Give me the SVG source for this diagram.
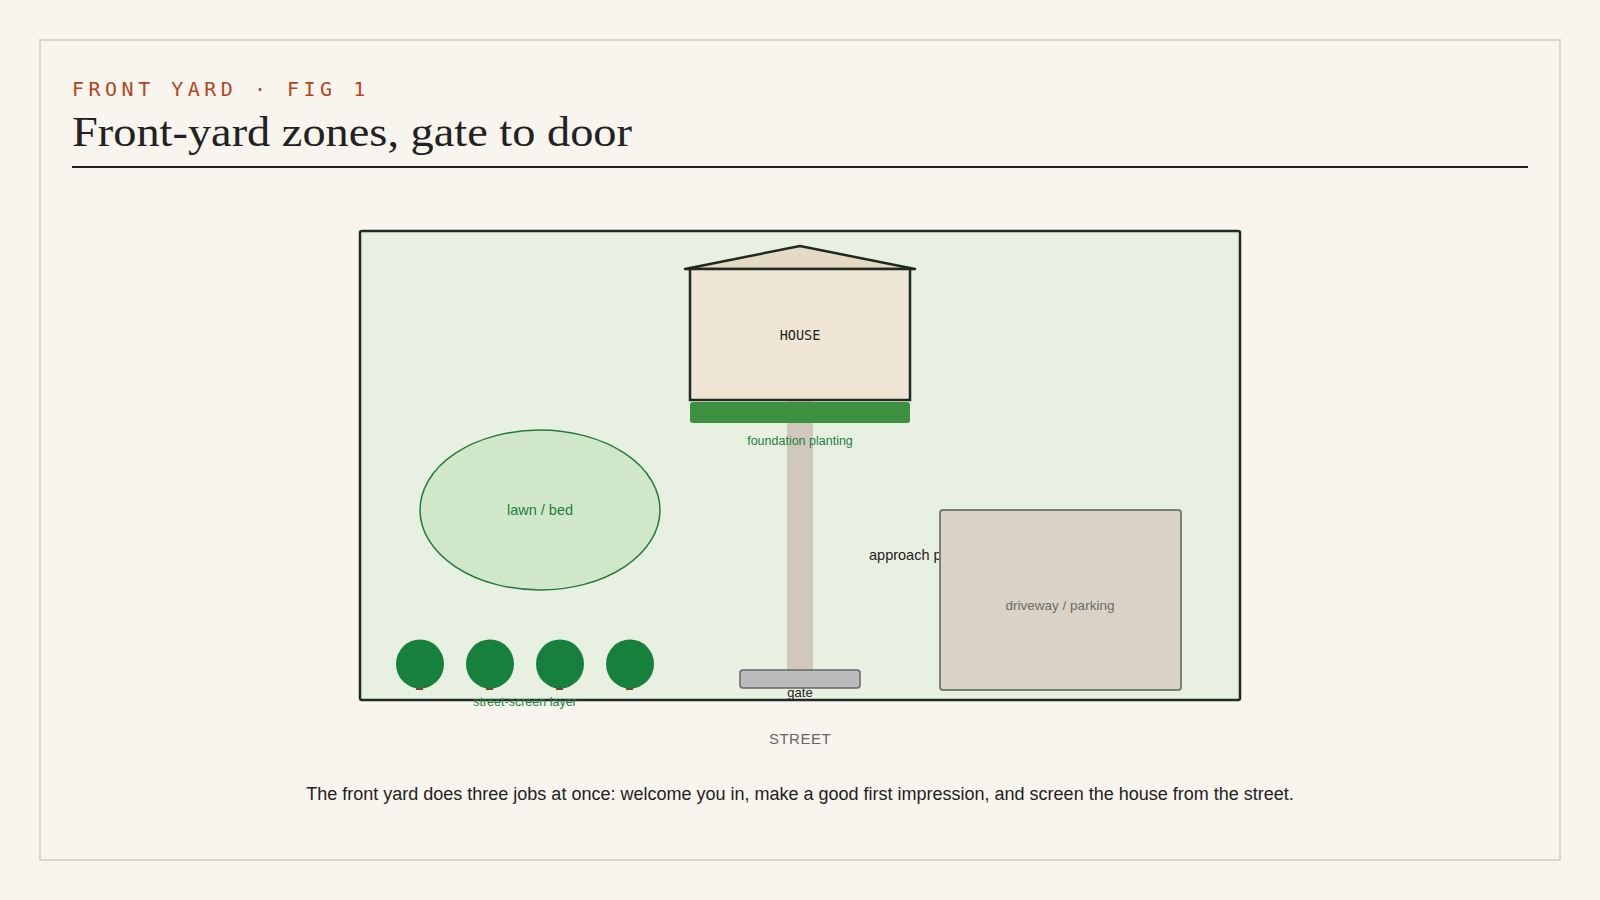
<svg xmlns="http://www.w3.org/2000/svg" width="1600" height="900" viewBox="0 0 1600 900">
<style>
.sans{font-family:"Liberation Sans",Arial,sans-serif}
.mono{font-family:"DejaVu Sans Mono","Liberation Mono",monospace}
.tree{fill:#16803c}
.trunk{fill:#8b3a1a}
</style>
<rect width="1600" height="900" fill="#f8f5ee"/>
<rect x="40" y="40" width="1520" height="820" fill="none" stroke="#d8d5ce" stroke-width="2"/>
<text x="72" y="96" class="mono" font-size="20" letter-spacing="4.5" fill="#b5451b">FRONT YARD · FIG 1</text>
<text x="72" y="146" font-family="'Liberation Serif',serif" font-size="42" fill="#222" textLength="560" lengthAdjust="spacingAndGlyphs">Front-yard zones, gate to door</text>
<rect x="72" y="166" width="1456" height="2" fill="#222"/>
<rect x="360" y="231" width="880" height="469" rx="2" fill="#e8f0e2" stroke="#1f2a22" stroke-width="2.5"/>
<text x="869" y="560" class="sans" font-size="14.5" fill="#222">approach path</text>
<g id="driveway">
<rect x="940" y="510" width="241" height="180" rx="3" fill="#d9d3c7" stroke="#7a8072" stroke-width="2"/>
<text x="1060" y="610" class="sans" font-size="13.5" fill="#6b6b66" text-anchor="middle">driveway / parking</text>
</g>
<g id="path"><rect x="787" y="400" width="26" height="270" fill="#d0c9bb"/></g>
<g id="house">
<polygon points="685,269 800,246 915,269" fill="#e5dac4" stroke="#1f2a22" stroke-width="2.5" stroke-linejoin="round"/>
<rect x="690" y="269" width="220" height="131" fill="#efe5d4" stroke="#1f2a22" stroke-width="2.5"/>
<text x="800" y="340" class="mono" font-size="13.5" fill="#222" text-anchor="middle">HOUSE</text>
</g>
<g id="foundation">
<rect x="690" y="402" width="220" height="21" rx="3" fill="#3d9140"/>
<text x="800" y="445" class="sans" font-size="12.5" fill="#1e7e3e" text-anchor="middle">foundation planting</text>
</g>
<g id="lawn">
<ellipse cx="540" cy="510" rx="120" ry="80" fill="#d0e8c9" stroke="#237a3f" stroke-width="1.5"/>
<text x="540" y="515" class="sans" font-size="14.5" fill="#1e7e3e" text-anchor="middle">lawn / bed</text>
</g>
<g id="gate">
<rect x="740" y="670" width="120" height="18" rx="3" fill="#bbbbbb" stroke="#666" stroke-width="1.5"/>
<text x="800" y="697" class="sans" font-size="13" fill="#222" text-anchor="middle">gate</text>
</g>
<g id="screen">
<rect x="416" y="686" width="7" height="4" class="trunk"/><ellipse cx="420" cy="664" rx="24" ry="24.5" class="tree"/>
<rect x="486" y="686" width="7" height="4" class="trunk"/><ellipse cx="490" cy="664" rx="24" ry="24.5" class="tree"/>
<rect x="556" y="686" width="7" height="4" class="trunk"/><ellipse cx="560" cy="664" rx="24" ry="24.5" class="tree"/>
<rect x="626" y="686" width="7" height="4" class="trunk"/><ellipse cx="630" cy="664" rx="24" ry="24.5" class="tree"/>
<text x="525" y="706" class="sans" font-size="12.5" fill="#1e7e3e" text-anchor="middle">street-screen layer</text>
</g>
<g id="connectors"></g>
<text x="800" y="744" class="sans" font-size="15" letter-spacing="0.5" fill="#666" text-anchor="middle">STREET</text>
<text x="800" y="800" class="sans" font-size="18" fill="#222" text-anchor="middle">The front yard does three jobs at once: welcome you in, make a good first impression, and screen the house from the street.</text>
</svg>
